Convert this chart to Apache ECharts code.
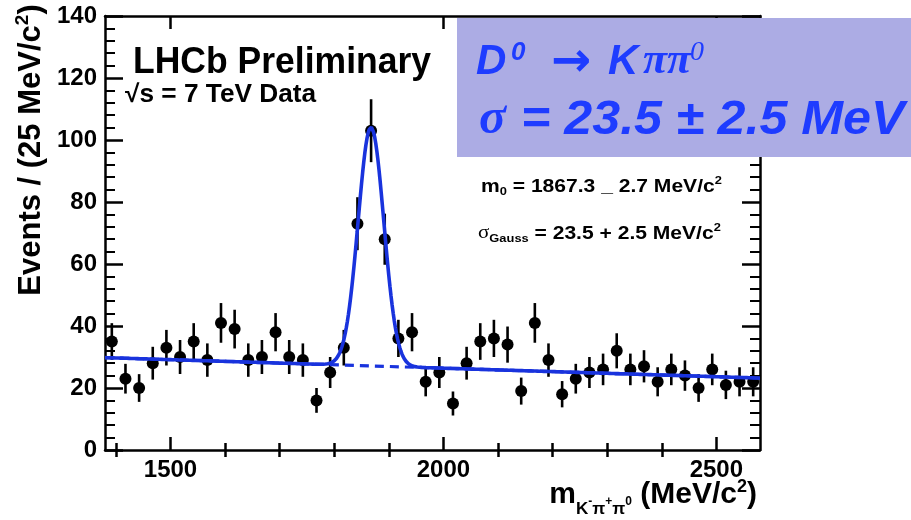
<!DOCTYPE html>
<html>
<head>
<meta charset="utf-8">
<script src="https://cdn.jsdelivr.net/npm/echarts@6/dist/echarts.min.js"></script>
<style>
  html, body { margin: 0; padding: 0; background: #ffffff; }
  #chart { width: 911px; height: 520px; }
</style>
</head>
<body>
<div id="chart"></div>
<script>
// K- pi+ pi0 invariant mass spectrum, 25 MeV/c^2 bins between 1380 and 2580 MeV/c^2
const massMin = 1380;
const massMax = 2580;
const binCenters = [
  1392.5, 1417.5, 1442.5, 1467.5, 1492.5, 1517.5, 1542.5, 1567.5, 1592.5, 1617.5, 1642.5, 1667.5,
  1692.5, 1717.5, 1742.5, 1767.5, 1792.5, 1817.5, 1842.5, 1867.5, 1892.5, 1917.5, 1942.5, 1967.5,
  1992.5, 2017.5, 2042.5, 2067.5, 2092.5, 2117.5, 2142.5, 2167.5, 2192.5, 2217.5, 2242.5, 2267.5,
  2292.5, 2317.5, 2342.5, 2367.5, 2392.5, 2417.5, 2442.5, 2467.5, 2492.5, 2517.5, 2542.5, 2567.5
];
const eventCounts = [
  35, 23, 20, 28, 33, 30, 35, 29, 41, 39, 29, 30,
  38, 30, 29, 16, 25, 33, 73, 103, 68, 36, 38, 22,
  25, 15, 28, 35, 36, 34, 19, 41, 29, 18, 23, 25,
  26, 32, 26, 27, 22, 26, 24, 20, 26, 21, 22, 22
];

// axis ticks
const massMajorTicks = [1500, 2000, 2500];
const massMinorTicks = [1400, 1600, 1700, 1800, 1900, 2100, 2200, 2300, 2400];

// fit result: Gaussian signal on a linear background
const fitMean = 1867.3;      // MeV/c^2
const fitSigma = 23.5;       // MeV/c^2
const fitPeakHeight = 77;    // events per bin at the mean
const bkgAtMin = 29.8;       // events per bin at 1380 MeV/c^2
const bkgSlope = -0.0055;    // events per bin per MeV/c^2

const BLUE = '#1933dd';
const BOX_BLUE = '#1e3cff';
const SANS = '"Liberation Sans", Arial, Helvetica, sans-serif';
const SERIF = '"Liberation Serif", "Times New Roman", serif';

function background(m) { return bkgAtMin + bkgSlope * (m - massMin); }
function fitTotal(m) {
  const d = (m - fitMean) / fitSigma;
  return background(m) + fitPeakHeight * Math.exp(-0.5 * d * d);
}

const fitCurve = [];
for (let m = massMin; m <= massMax; m += 2) fitCurve.push([m, fitTotal(m)]);
const bkgCurve = [[massMin, background(massMin)], [massMax, background(massMax)]];

const points = eventCounts.map((n, i) => [binCenters[i], n, Math.sqrt(n)]);

// Lays out a run of text pieces [text, style, size, baselineShift, family] side by side.
const measureCtx = document.createElement('canvas').getContext('2d');
function textRun(pieces, x, baseline, align, fill, z, scaleX) {
  const sx = scaleX || 1;
  const widths = pieces.map(p => {
    measureCtx.font = p[1] + ' ' + p[2] + 'px ' + p[4];
    return measureCtx.measureText(p[0]).width * sx;
  });
  const total = widths.reduce((a, b) => a + b, 0);
  let cx = align === 'right' ? x - total : x;
  return pieces.map((p, i) => {
    const el = {
      type: 'text', x: cx, y: baseline + p[3] - 0.35 * p[2], z: z, scaleX: sx,
      style: { text: p[0], font: p[1] + ' ' + p[2] + 'px ' + p[4], fill: fill, verticalAlign: 'middle' }
    };
    cx += widths[i];
    return el;
  });
}

function placed(text, font, size, family, x, baseline, fill, z, scaleX) {
  return {
    type: 'text', x: x, y: baseline - 0.35 * size, z: z, scaleX: scaleX || 1,
    style: { text: text, font: font + ' ' + size + 'px ' + family, fill: fill, verticalAlign: 'middle' }
  };
}

const axisFrame = { show: true, onZero: false, lineStyle: { color: '#000', width: 2.5 } };

function massAxis(position, ticks, len, frame, labels) {
  return {
    type: 'value', min: massMin, max: massMax, position: position,
    axisLine: frame ? axisFrame : { show: false },
    axisTick: { show: true, inside: true, length: len, customValues: ticks,
                lineStyle: { color: '#000', width: 2.5 } },
    axisLabel: labels
      ? { show: true, customValues: ticks, color: '#000', fontSize: 24, fontWeight: 'bold',
          fontFamily: SANS, margin: 8, formatter: v => String(v) }
      : { show: false },
    splitLine: { show: false }
  };
}

function countAxis(position, labels) {
  return {
    type: 'value', min: 0, max: 140, interval: 20, position: position,
    axisLine: axisFrame,
    axisTick: { show: true, inside: true, length: 18, lineStyle: { color: '#000', width: 2.5 } },
    minorTick: { show: true, splitNumber: 5, length: 10, lineStyle: { color: '#000', width: 2 } },
    axisLabel: labels
      ? { show: true, color: '#000', fontSize: 24, fontWeight: 'bold', fontFamily: SANS, margin: 8 }
      : { show: false },
    splitLine: { show: false },
    minorSplitLine: { show: false }
  };
}

const massTitle = textRun([
  ['m', 'bold', 30, 0, SANS],
  ['K', 'bold', 17, 10, SANS],
  ['-', 'bold', 12, 1, SANS],
  ['\u03C0', 'bold', 17, 10, SANS],
  ['+', 'bold', 12, 1, SANS],
  ['\u03C0', 'bold', 17, 10, SANS],
  ['0', 'bold', 12, 1, SANS],
  [' (MeV/c', 'bold', 30, 0, SANS],
  ['2', 'bold', 18, -12, SANS],
  [')', 'bold', 30, 0, SANS]
], 757, 505, 'right', '#000', 50);

const resultBox = [
  { type: 'rect', z: 60, shape: { x: 457, y: 18, width: 454, height: 139 }, style: { fill: '#acace4' } },
  placed('D', 'italic bold', 42, SANS, 476, 77, BOX_BLUE, 61),
  placed('0', 'italic bold', 26, SANS, 511, 62, BOX_BLUE, 61),
  placed('\u2192', 'bold', 48, '"DejaVu Sans", sans-serif', 551, 80, BOX_BLUE, 61),
  placed('K', 'italic bold', 42, SANS, 608, 77, BOX_BLUE, 61),
  placed('\u03C0\u03C0', 'italic bold', 44, SERIF, 643, 77, BOX_BLUE, 61),
  placed('0', 'italic', 28, SERIF, 690, 62, BOX_BLUE, 61),
  placed('\u03C3', 'italic bold', 50, SERIF, 479, 138, BOX_BLUE, 61),
  placed('= 23.5 \u00B1 2.5 MeV', 'italic bold', 49, SANS, 521, 138, BOX_BLUE, 61, 1.025)
];

const chart = echarts.init(document.getElementById('chart'), null, { renderer: 'canvas' });

chart.setOption({
  animation: false,
  backgroundColor: '#ffffff',
  grid: { left: 105, right: 151, top: 16, bottom: 70, containLabel: false },
  xAxis: [
    massAxis('bottom', massMajorTicks, 13, true, true),
    massAxis('bottom', massMinorTicks, 7, false, false),
    massAxis('top', massMajorTicks, 13, true, false),
    massAxis('top', massMinorTicks, 7, false, false)
  ],
  yAxis: [countAxis('left', true), countAxis('right', false)],
  series: [
    {
      type: 'custom',
      xAxisIndex: 0, yAxisIndex: 0,
      z: 2,
      renderItem: function (params, api) {
        const lo = api.coord([api.value(0), api.value(1) - api.value(2)]);
        const hi = api.coord([api.value(0), api.value(1) + api.value(2)]);
        return {
          type: 'line',
          shape: { x1: lo[0], y1: lo[1], x2: hi[0], y2: hi[1] },
          style: { stroke: '#000', lineWidth: 2.6 }
        };
      },
      encode: { x: 0, y: 1 },
      data: points
    },
    {
      type: 'scatter',
      xAxisIndex: 0, yAxisIndex: 0,
      z: 3,
      symbol: 'circle',
      symbolSize: 12,
      itemStyle: { color: '#000', opacity: 1 },
      data: points.map(p => [p[0], p[1]])
    },
    {
      type: 'line',
      xAxisIndex: 0, yAxisIndex: 0,
      z: 4,
      showSymbol: false,
      lineStyle: { color: BLUE, width: 3.2, type: [9, 6] },
      data: bkgCurve
    },
    {
      type: 'line',
      xAxisIndex: 0, yAxisIndex: 0,
      z: 5,
      showSymbol: false,
      smooth: false,
      lineStyle: { color: BLUE, width: 3.6 },
      data: fitCurve
    }
  ],
  graphic: [
    {
      type: 'text', x: 133, y: 63, scaleX: 0.96, z: 50,
      style: { text: 'LHCb Preliminary', font: 'bold 37px ' + SANS, fill: '#000', verticalAlign: 'middle' }
    },
    {
      type: 'text', x: 125, y: 95, scaleX: 1.05, z: 50,
      style: { text: '\u221As = 7 TeV Data', font: 'bold 25px ' + SANS, fill: '#000', verticalAlign: 'middle' }
    },
    {
      type: 'text', x: 481, y: 175.7, scaleX: 1.17, z: 50,
      style: {
        text: '{t|m}{sub|0}{t| = 1867.3 _ 2.7 MeV/c}{sup|2}',
        verticalAlign: 'top',
        rich: {
          t: { font: 'bold 18px ' + SANS, fill: '#000', lineHeight: 22 },
          sub: { font: 'bold 11px ' + SANS, fill: '#000', lineHeight: 10, verticalAlign: 'bottom' },
          sup: { font: 'bold 11px ' + SANS, fill: '#000', lineHeight: 10, verticalAlign: 'top' }
        }
      }
    },
    {
      type: 'text', x: 478, y: 222.7, scaleX: 1.17, z: 50,
      style: {
        text: '{s|\u03C3}{sub|Gauss}{t| = 23.5 + 2.5 MeV/c}{sup|2}',
        verticalAlign: 'top',
        rich: {
          s: { font: '18px ' + SERIF, fill: '#000', lineHeight: 22 },
          t: { font: 'bold 18px ' + SANS, fill: '#000', lineHeight: 22 },
          sub: { font: 'bold 11px ' + SANS, fill: '#000', lineHeight: 8, verticalAlign: 'bottom' },
          sup: { font: 'bold 11px ' + SANS, fill: '#000', lineHeight: 10, verticalAlign: 'top' }
        }
      }
    },
    {
      type: 'text', x: 31, y: 150, rotation: Math.PI / 2, z: 50,
      style: {
        text: '{t|Events / (25 MeV/c}{sup|2}{t|)}',
        align: 'center', verticalAlign: 'middle',
        rich: {
          t: { font: 'bold 31px ' + SANS, fill: '#000', lineHeight: 36 },
          sup: { font: 'bold 19px ' + SANS, fill: '#000', lineHeight: 18, verticalAlign: 'top' }
        }
      }
    }
  ].concat(massTitle, resultBox)
});
</script>
</body>
</html>
